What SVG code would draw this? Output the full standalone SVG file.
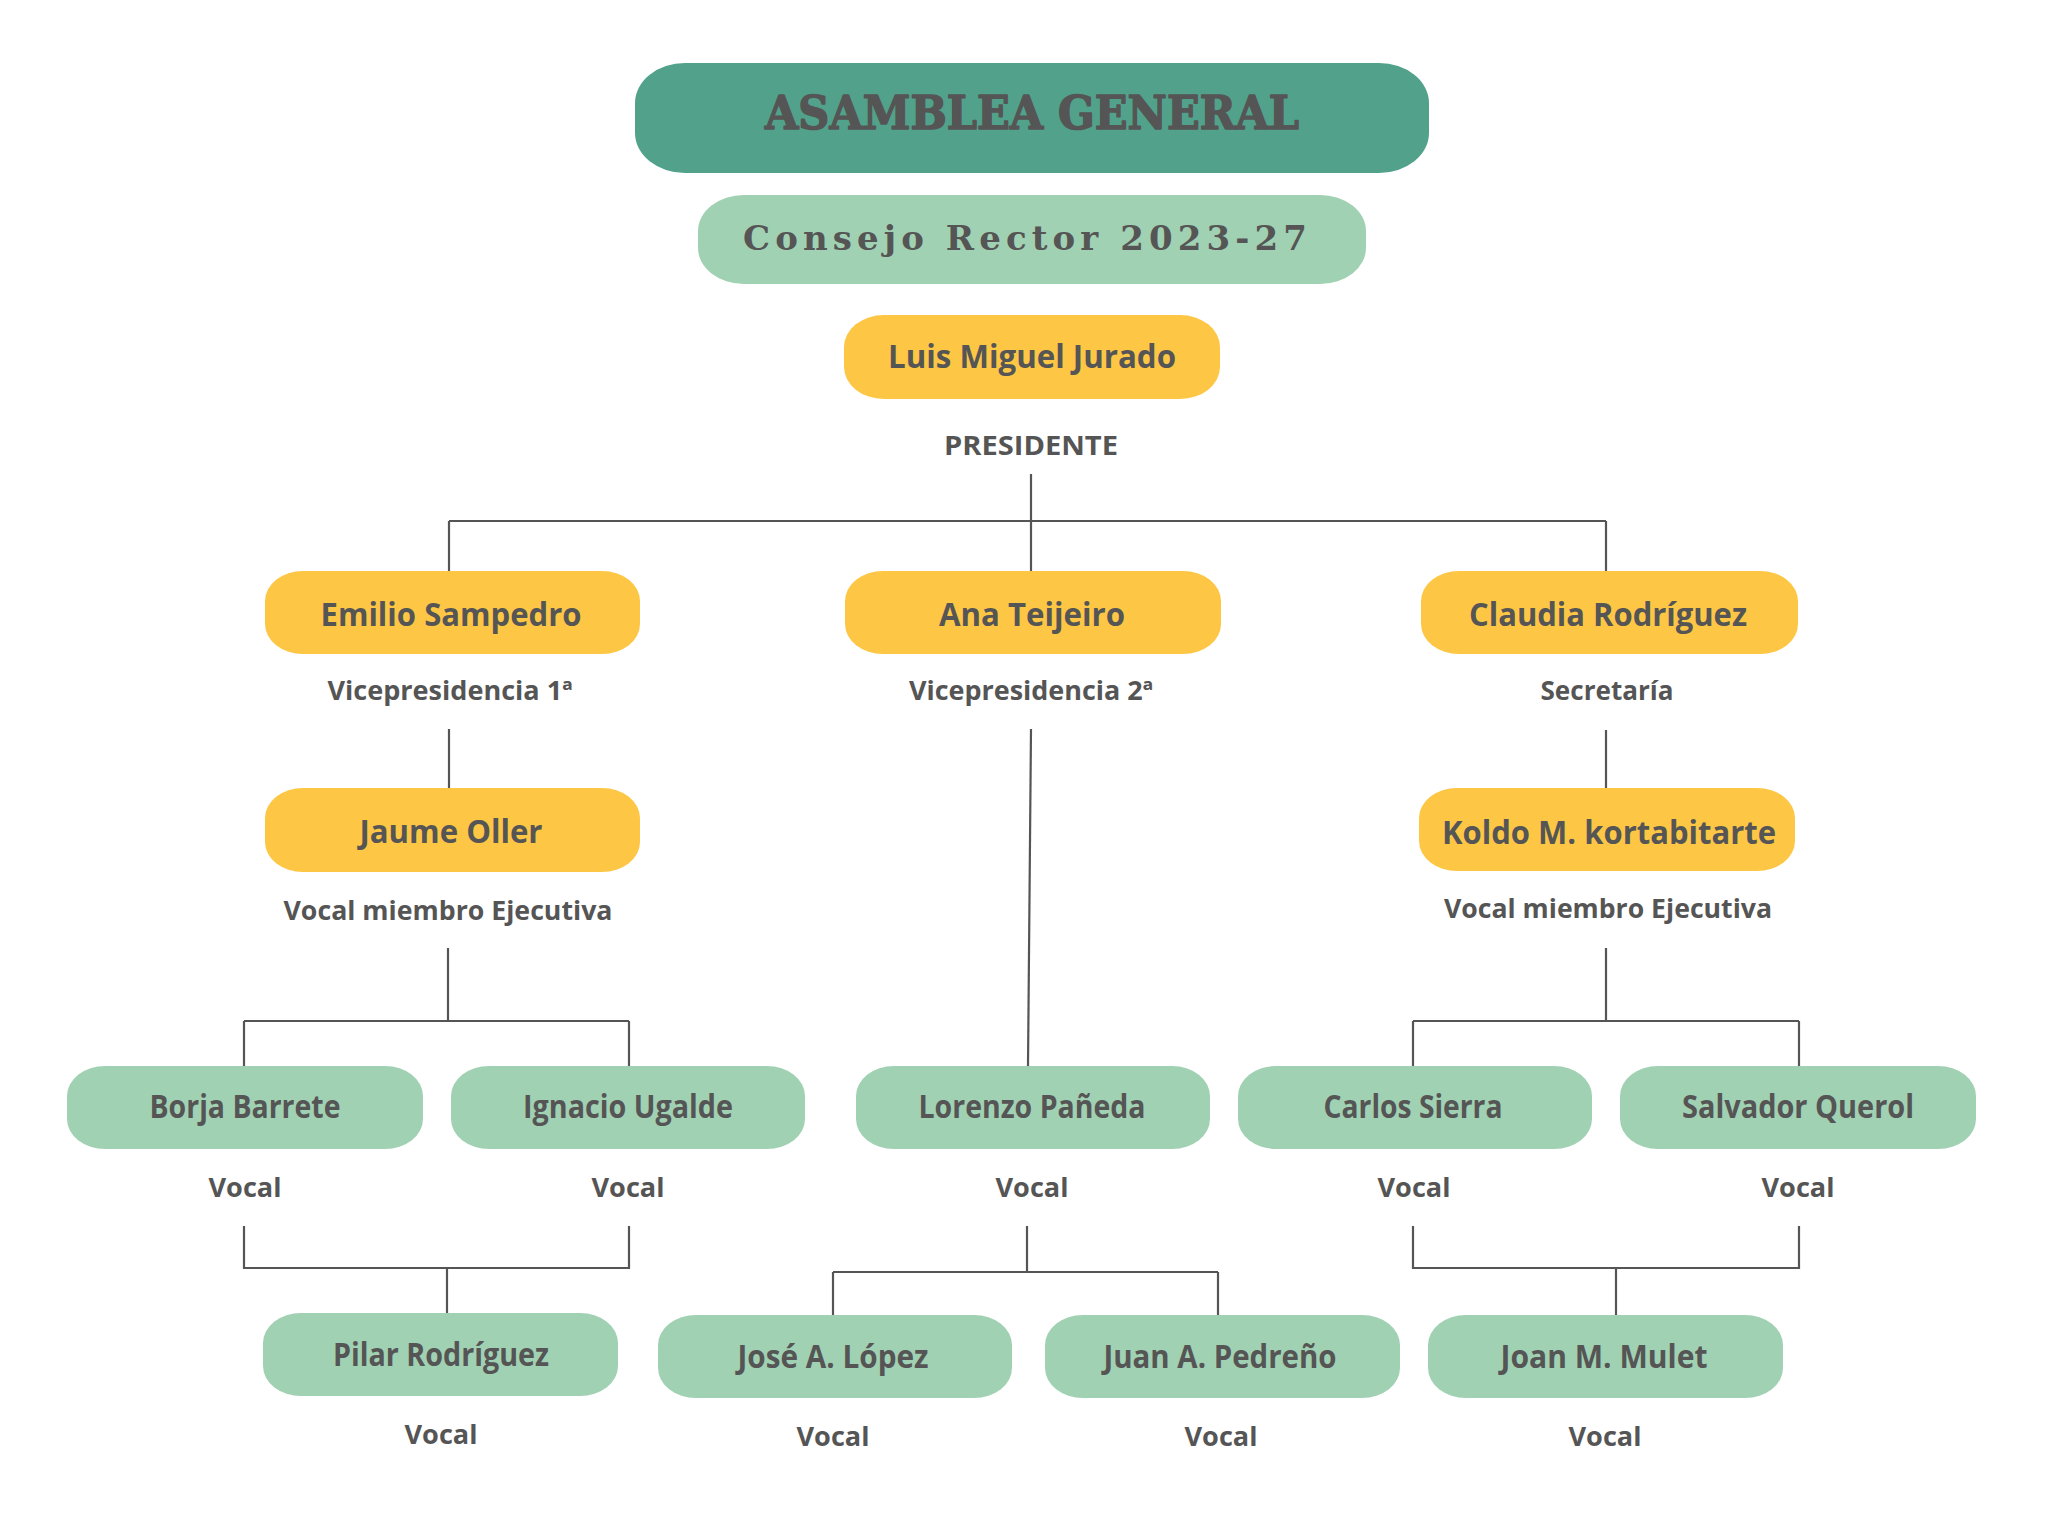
<svg xmlns="http://www.w3.org/2000/svg" width="2048" height="1536" viewBox="0 0 2048 1536">
<style>
.title{font-family:"DejaVu Serif","Liberation Serif",serif;font-weight:bold;fill:#555555;text-anchor:middle}
.heavy{stroke:#555555;stroke-width:1.6;stroke-linejoin:round}
.name{font-family:"Open Sans","Noto Sans",sans-serif;font-weight:bold;font-size:32px;fill:#555555;text-anchor:middle}
.lbl{font-family:"Open Sans","Noto Sans",sans-serif;font-weight:bold;font-size:27px;fill:#555555;text-anchor:middle}
.yel{fill:#FDC745}
.grn{fill:#A1D1B3}
.con{fill:none;stroke:#555555;stroke-width:2.2}
</style>
<rect width="2048" height="1536" fill="#FFFFFF"/>
<g id="connectors" class="con">
<path d="M1031 474 V571"/>
<path d="M449 521 H1606"/>
<path d="M449 521 V571"/>
<path d="M1606 521 V571"/>
<path d="M449 729 V788"/>
<path d="M448 948 V1021"/>
<path d="M244 1021 H629"/>
<path d="M244 1021 V1066"/>
<path d="M629 1021 V1066"/>
<path d="M244 1226 V1268 H629 V1226"/>
<path d="M447 1268 V1313"/>
<path d="M1031 729 L1028 1066"/>
<path d="M1027 1226 V1272"/>
<path d="M833 1272 H1218"/>
<path d="M833 1272 V1315"/>
<path d="M1218 1272 V1315"/>
<path d="M1606 730 V788"/>
<path d="M1606 948 V1021"/>
<path d="M1413 1021 H1799"/>
<path d="M1413 1021 V1066"/>
<path d="M1799 1021 V1066"/>
<path d="M1413 1226 V1268 H1799 V1226"/>
<path d="M1616 1268 V1315"/>
</g>
<g id="asamblea">
<rect x="635" y="63" width="794" height="110" rx="50" ry="40" fill="#52A28B"/>
<text class="title heavy" x="1032" y="129" font-size="46" textLength="534" lengthAdjust="spacingAndGlyphs">ASAMBLEA GENERAL</text>
</g>
<g id="consejo">
<rect x="698" y="195" width="668" height="89" rx="46" ry="36" class="grn"/>
<text class="title" x="1025" y="250" font-size="34" textLength="564" lengthAdjust="spacing">Consejo Rector 2023-27</text>
</g>
<g id="presidente">
<rect x="844" y="315" width="376" height="84" rx="40" ry="32" class="yel"/>
<text class="name" x="1032" y="368" textLength="288" lengthAdjust="spacingAndGlyphs">Luis Miguel Jurado</text>
<text class="lbl" x="1031" y="455" textLength="174" lengthAdjust="spacingAndGlyphs">PRESIDENTE</text>
</g>
<g id="emilio">
<rect x="265" y="571" width="375" height="83" rx="38" ry="30" class="yel"/>
<text class="name" x="451" y="626" textLength="261" lengthAdjust="spacingAndGlyphs">Emilio Sampedro</text>
<text class="lbl" x="450" y="700" textLength="245" lengthAdjust="spacingAndGlyphs">Vicepresidencia 1ª</text>
</g>
<g id="ana">
<rect x="845" y="571" width="376" height="83" rx="38" ry="30" class="yel"/>
<text class="name" x="1032" y="626" textLength="186" lengthAdjust="spacingAndGlyphs">Ana Teijeiro</text>
<text class="lbl" x="1031" y="700" textLength="244" lengthAdjust="spacingAndGlyphs">Vicepresidencia 2ª</text>
</g>
<g id="claudia">
<rect x="1421" y="571" width="377" height="83" rx="38" ry="30" class="yel"/>
<text class="name" x="1608" y="626" textLength="278" lengthAdjust="spacingAndGlyphs">Claudia Rodríguez</text>
<text class="lbl" x="1607" y="700" textLength="133" lengthAdjust="spacingAndGlyphs">Secretaría</text>
</g>
<g id="jaume">
<rect x="265" y="788" width="375" height="84" rx="38" ry="30" class="yel"/>
<text class="name" x="451" y="843" textLength="183" lengthAdjust="spacingAndGlyphs">Jaume Oller</text>
<text class="lbl" x="448" y="920" textLength="329" lengthAdjust="spacingAndGlyphs">Vocal miembro Ejecutiva</text>
</g>
<g id="koldo">
<rect x="1419" y="788" width="376" height="83" rx="38" ry="30" class="yel"/>
<text class="name" x="1609" y="844" textLength="334" lengthAdjust="spacingAndGlyphs">Koldo M. kortabitarte</text>
<text class="lbl" x="1608" y="918" textLength="328" lengthAdjust="spacingAndGlyphs">Vocal miembro Ejecutiva</text>
</g>
<g id="borja">
<rect x="67" y="1066" width="356" height="83" rx="38" ry="30" class="grn"/>
<text class="name" x="245" y="1118" textLength="191" lengthAdjust="spacingAndGlyphs">Borja Barrete</text>
<text class="lbl" x="245" y="1197" textLength="73" lengthAdjust="spacingAndGlyphs">Vocal</text>
</g>
<g id="ignacio">
<rect x="451" y="1066" width="354" height="83" rx="38" ry="30" class="grn"/>
<text class="name" x="628" y="1118" textLength="210" lengthAdjust="spacingAndGlyphs">Ignacio Ugalde</text>
<text class="lbl" x="628" y="1197" textLength="73" lengthAdjust="spacingAndGlyphs">Vocal</text>
</g>
<g id="lorenzo">
<rect x="856" y="1066" width="354" height="83" rx="38" ry="30" class="grn"/>
<text class="name" x="1032" y="1118" textLength="227" lengthAdjust="spacingAndGlyphs">Lorenzo Pañeda</text>
<text class="lbl" x="1032" y="1197" textLength="73" lengthAdjust="spacingAndGlyphs">Vocal</text>
</g>
<g id="carlos">
<rect x="1238" y="1066" width="354" height="83" rx="38" ry="30" class="grn"/>
<text class="name" x="1413" y="1118" textLength="179" lengthAdjust="spacingAndGlyphs">Carlos Sierra</text>
<text class="lbl" x="1414" y="1197" textLength="73" lengthAdjust="spacingAndGlyphs">Vocal</text>
</g>
<g id="salvador">
<rect x="1620" y="1066" width="356" height="83" rx="38" ry="30" class="grn"/>
<text class="name" x="1798" y="1118" textLength="232" lengthAdjust="spacingAndGlyphs">Salvador Querol</text>
<text class="lbl" x="1798" y="1197" textLength="73" lengthAdjust="spacingAndGlyphs">Vocal</text>
</g>
<g id="pilar">
<rect x="263" y="1313" width="355" height="83" rx="38" ry="30" class="grn"/>
<text class="name" x="441" y="1366" textLength="216" lengthAdjust="spacingAndGlyphs">Pilar Rodríguez</text>
<text class="lbl" x="441" y="1444" textLength="73" lengthAdjust="spacingAndGlyphs">Vocal</text>
</g>
<g id="jose">
<rect x="658" y="1315" width="354" height="83" rx="38" ry="30" class="grn"/>
<text class="name" x="833" y="1368" textLength="191" lengthAdjust="spacingAndGlyphs">José A. López</text>
<text class="lbl" x="833" y="1446" textLength="73" lengthAdjust="spacingAndGlyphs">Vocal</text>
</g>
<g id="juan">
<rect x="1045" y="1315" width="355" height="83" rx="38" ry="30" class="grn"/>
<text class="name" x="1220" y="1368" textLength="233" lengthAdjust="spacingAndGlyphs">Juan A. Pedreño</text>
<text class="lbl" x="1221" y="1446" textLength="73" lengthAdjust="spacingAndGlyphs">Vocal</text>
</g>
<g id="joan">
<rect x="1428" y="1315" width="355" height="83" rx="38" ry="30" class="grn"/>
<text class="name" x="1604" y="1368" textLength="207" lengthAdjust="spacingAndGlyphs">Joan M. Mulet</text>
<text class="lbl" x="1605" y="1446" textLength="73" lengthAdjust="spacingAndGlyphs">Vocal</text>
</g>
</svg>
